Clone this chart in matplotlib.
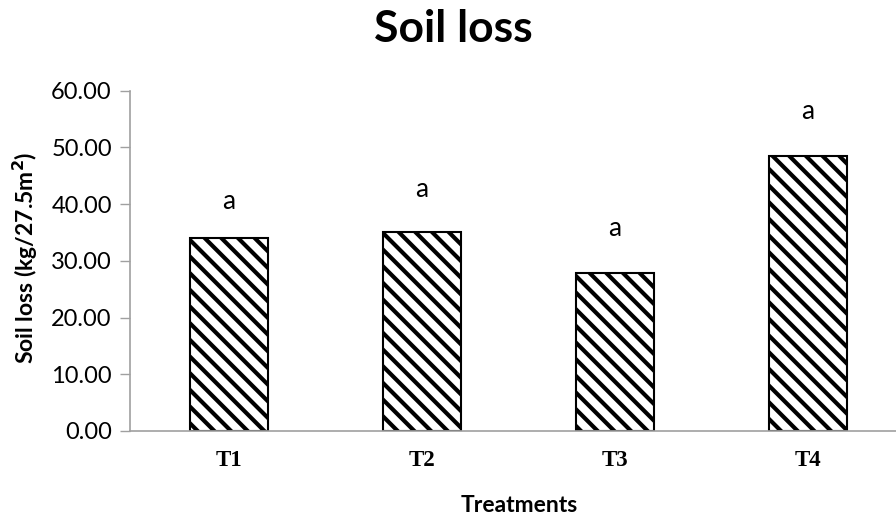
import matplotlib
matplotlib.use("Agg")
import matplotlib.pyplot as plt

# soil loss per treatment plot (kg / 27.5 m2)
treatments = ["T1", "T2", "T3", "T4"]
soil_loss = [34.0, 35.1, 27.8, 48.5]
letters = ["a", "a", "a", "a"]
letter_y = [40.5, 42.6, 35.7, 56.3]
y_ticks = [0, 10, 20, 30, 40, 50, 60]

plt.rcParams["font.family"] = ["Lato", "DejaVu Sans"]
plt.rcParams["hatch.linewidth"] = 3.0

fig = plt.figure(figsize=(8.96, 5.16), dpi=100)
ax = fig.add_axes([0.145, 0.165, 0.855, 0.659])

x = range(len(treatments))
ax.bar(x, soil_loss, width=0.40, color="white", edgecolor="black",
       linewidth=1.5, hatch="\\\\")

for i, (lab, ly) in enumerate(zip(letters, letter_y)):
    ax.text(i, ly, lab, ha="center", va="center", fontsize=19)

ax.set_xlim(-0.513, 3.456)
ax.set_ylim(0, 60)
ax.set_yticks(y_ticks)
ax.set_yticklabels(["%.2f" % v for v in y_ticks], fontsize=17)
ax.set_xticks(list(x))
ax.set_xticklabels(treatments, fontsize=16.5, fontweight="bold",
                   family="Liberation Serif")
ax.tick_params(axis="x", length=0, pad=14)
ax.tick_params(axis="y", length=7, color="#a0a0a0", width=1, pad=6)

for side in ("top", "right"):
    ax.spines[side].set_visible(False)
for side in ("left", "bottom"):
    ax.spines[side].set_color("#a0a0a0")
    ax.spines[side].set_linewidth(1.2)

ax.set_ylabel("Soil loss (kg/27.5m$^{\\mathbf{2}}$)", fontsize=16.5,
              fontweight="bold", va="center")
ax.yaxis.set_label_coords(-0.137, 0.509)
ax.set_xlabel("Treatments", fontsize=16.5, fontweight="bold", va="center")
ax.xaxis.set_label_coords(0.508, -0.22)
fig.text(0.506, 0.944, "Soil loss", ha="center", va="center",
         fontsize=32, fontweight="bold")

fig.savefig("out.png", dpi=100)
